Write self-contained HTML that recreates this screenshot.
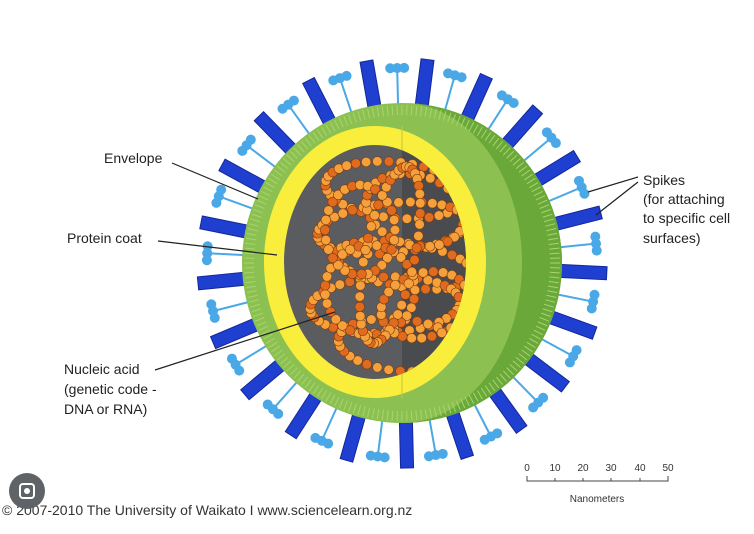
<!DOCTYPE html>
<html><head><meta charset="utf-8"><style>
body{margin:0;width:754px;height:534px;background:#fff;overflow:hidden;font-family:"Liberation Sans",sans-serif}
svg{position:absolute;left:0;top:0}
</style></head><body>
<svg id="s" width="754" height="534" viewBox="0 0 754 534">
<defs>
<clipPath id="gc"><ellipse cx="375" cy="262" rx="91" ry="117"/></clipPath>
</defs>
<g id="spk"></g>
<circle cx="402" cy="263" r="160" fill="#8cc152"/>
<path d="M402 103 A160 160 0 0 1 402 423 A120 160 0 0 0 402 103Z" fill="#6aa83a"/>
<g id="ticks"></g>
<ellipse cx="375" cy="262" rx="111" ry="136" fill="#f9ee3c"/>
<line x1="402" y1="126" x2="402" y2="398" stroke="#c9c23a" stroke-width="1"/>
<ellipse cx="375" cy="262" rx="91" ry="117" fill="#5b5c60"/>
<rect x="402" y="140" width="80" height="250" fill="#4a4b4f" clip-path="url(#gc)"/>
<g id="rna" clip-path="url(#gc)"></g>
<g stroke="#222" stroke-width="1.2">
<line x1="172" y1="163" x2="258" y2="199"/>
<line x1="158" y1="241" x2="277" y2="255"/>
<line x1="155" y1="370" x2="335" y2="312"/>
<line x1="638" y1="177" x2="588" y2="192"/>
<line x1="638" y1="182" x2="596" y2="215"/>
</g>
<g font-size="14" fill="#222">
<text x="104" y="163">Envelope</text>
<text x="67" y="243">Protein coat</text>
<text x="64" y="374">Nucleic acid</text>
<text x="64" y="394">(genetic code -</text>
<text x="64" y="414">DNA or RNA)</text>
<text x="643" y="185">Spikes</text>
<text x="643" y="204">(for attaching</text>
<text x="643" y="223">to specific cell</text>
<text x="643" y="243">surfaces)</text>
</g>
<g font-size="10" fill="#333" text-anchor="middle">
<text x="527" y="471">0</text><text x="555" y="471">10</text><text x="583" y="471">20</text><text x="611" y="471">30</text><text x="640" y="471">40</text><text x="668" y="471">50</text>
<text x="597" y="502">Nanometers</text>
</g>
<path d="M527 476V481H668V476M555 478V481M583 478V481M611 478V481M640 478V481" stroke="#444" fill="none"/>
<text x="2" y="515" font-size="14" fill="#333">© 2007-2010 The University of Waikato I www.sciencelearn.org.nz</text>
<circle cx="27" cy="491" r="18" fill="#5f6368"/>
<rect x="20" y="484" width="14" height="14" rx="3" fill="none" stroke="#fff" stroke-width="2"/>
<circle cx="27" cy="491" r="3" fill="#fff"/>
</svg>
<script>
var N="http://www.w3.org/2000/svg";
function el(p,t,a){var e=document.createElementNS(N,t);for(var k in a)e.setAttribute(k,a[k]);p.appendChild(e);return e;}
var cx=402,cy=263,sp=document.getElementById('spk'),tk=document.getElementById('ticks');
for(var i=0;i<200;i++){var a=i/200*Math.PI*2;el(tk,'line',{x1:cx+148*Math.cos(a),y1:cy+148*Math.sin(a),x2:cx+158*Math.cos(a),y2:cy+158*Math.sin(a),stroke:'#a8d46f','stroke-width':1});}
var n=42;
for(var i=0;i<n;i++){var a=i/n*Math.PI*2+0.05,c=Math.cos(a),s=Math.sin(a);
 if(i%2==0){var w=13;var x1=cx+150*c,y1=cy+150*s,x2=cx+205*c,y2=cy+205*s,px=-s*w/2,py=c*w/2;
  el(sp,'polygon',{points:[x1+px,y1+py,x2+px,y2+py,x2-px,y2-py,x1-px,y1-py].join(' '),fill:'#1f3fd0',stroke:'#14279a','stroke-width':1});}
 else{var x1=cx+150*c,y1=cy+150*s,x2=cx+192*c,y2=cy+192*s;
  el(sp,'line',{x1:x1,y1:y1,x2:x2,y2:y2,stroke:'#4aa8e6','stroke-width':2});
  for(var k=-1;k<=1;k++){el(sp,'circle',{cx:x2+(-s*k*7)+c*3,cy:y2+(c*k*7)+s*3,r:5,fill:'#4aa8e6'});}}
}
var r=document.getElementById('rna');
var loops=[[395,190,70,28,0.1],[392,228,75,25,-0.1],[405,265,70,22,0.15],[385,305,75,28,-0.05],[400,345,62,26,0.1],[370,290,45,45,0],[415,210,50,35,0.3],[360,230,35,45,0],[425,305,45,32,-0.3],[390,255,25,90,0.2]];
loops.forEach(function(L,j){var m=Math.round(2*Math.PI*Math.sqrt((L[2]*L[2]+L[3]*L[3])/2)/9);
 for(var i=0;i<m;i++){var t=i/m*Math.PI*2,x=L[2]*Math.cos(t),y=L[3]*Math.sin(t),ca=Math.cos(L[4]),sa=Math.sin(L[4]);
 el(r,'circle',{cx:L[0]+x*ca-y*sa,cy:L[1]+x*sa+y*ca,r:4.8,fill:(i+j)%3?'#f5a03a':'#e06a1e',stroke:'#7a3a10','stroke-width':0.6});}});
</script>
</body></html>
